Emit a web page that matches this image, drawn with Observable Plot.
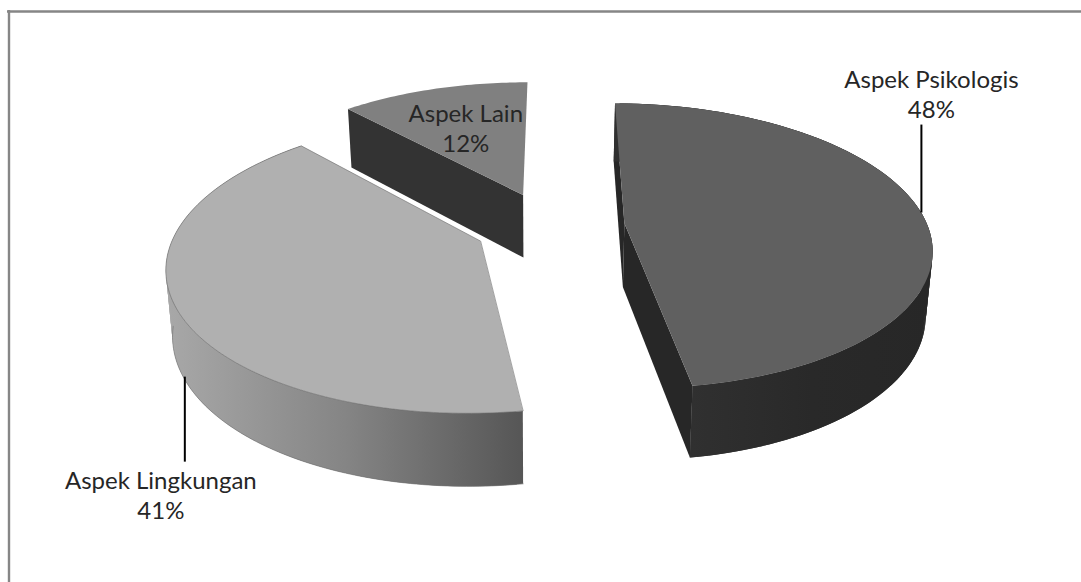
<!DOCTYPE html>
<html><head><meta charset="utf-8">
<style>html,body{margin:0;padding:0;background:#fff}svg{display:block}</style>
<script src="https://cdn.jsdelivr.net/npm/d3@7"></script>
<script src="https://cdn.jsdelivr.net/npm/@observablehq/plot@0.6"></script>
</head><body><div id="chart"></div>
<script>
// Shares of the three aspects, drawn as an exploded 3D pie.
const names = ["Aspek Psikologis", "Aspek Lingkungan", "Aspek Lain"];
const shares = [48, 41, 12];
const topColors = ["#606060", "#b0b0b0", "#808080"];
const cutColors = ["#272727", "#6a6a6a", "#333333"];

const W = 1081, H = 582;

// Perspective camera for the pie's top plane, and the offset to its bottom plane.
const cam = {ox: 548.47, oy: 225.3, ax: 303.11, ay: 139.62, k: 0.1589, rot: 0.21};
const explode = [0.2502, 0.2469, 0.2447];
const base = {vx: 540, sx: 0.982, dy: 53.2, sy: 0.048};

const rad = Math.PI / 180;
const total = d3.sum(shares);
const spans = d3.pairs([0, ...d3.cumsum(shares)].map((s) => (s / total) * 360));
const mids = spans.map(([a, b]) => (a + b) / 2);

function onTop(i, deg, r = 1) {
  const m = (mids[i] + cam.rot) * rad, t = (deg + cam.rot) * rad;
  const u = explode[i] * Math.sin(m) + r * Math.sin(t);
  const v = explode[i] * Math.cos(m) + r * Math.cos(t);
  const w = 1 + cam.k * v;
  return [cam.ox + (cam.ax * u) / w, cam.oy - (cam.ay * v) / w];
}
const onBase = ([x, y]) => [base.vx + (x - base.vx) * base.sx, y + base.dy + base.sy * y];

const sweep = (a, b) => [...d3.range(a, b, 1), b];
const topFace = (i) => [...sweep(...spans[i]).map((t) => onTop(i, t)), onTop(i, 0, 0)];
const cutFace = (i, deg) => {
  const a = onTop(i, deg), c = onTop(i, 0, 0);
  return [a, c, onBase(c), onBase(a)];
};

// The outer wall is a run of overlapping quads, so its silhouette stays filled.
const wall = (i) =>
  d3.pairs(sweep(...spans[i])).flatMap(([a, b], id) => {
    const c = Math.min(b + 1, spans[i][1]);
    const p = onTop(i, a), q = onTop(i, c);
    return [p, q, onBase(q), onBase(p)].map(([x, y]) => ({x, y, id}));
  });
// Only the front part of the lower rim is outlined.
const frontRim = (i) => sweep(spans[i][0], mids[i] + 18).map((t) => onBase(onTop(i, t)));

const polygon = (pts, fill, stroke = "none", strokeWidth = 0.6) =>
  Plot.line(pts, {x: "0", y: "1", curve: "linear-closed", fill, stroke, strokeWidth});
const side = (i, fill) => Plot.line(wall(i), {x: "x", y: "y", z: "id", curve: "linear-closed", fill, stroke: "none"});

// Horizontal shading for the outer walls, spanning the pie slice in page units.
const gradient = (id, x1, x2, stops) => () => {
  const defs = d3.create("svg:defs");
  const g = defs.append("linearGradient").attr("id", id)
    .attr("gradientUnits", "userSpaceOnUse").attr("x1", x1).attr("x2", x2).attr("y1", 0).attr("y2", 0);
  for (const [offset, color] of stops) g.append("stop").attr("offset", offset).attr("stop-color", color);
  return defs.node();
};

// Labels: leaders rise or drop from the rim at each slice's middle angle.
const rimPsi = onTop(0, mids[0]);
const rimLing = onBase(onTop(1, mids[1]));
const lainAt = onTop(2, mids[2], 0.6);
const leaders = [
  {x: rimPsi[0], y1: rimPsi[1], y2: rimPsi[1] - 88},
  {x: rimLing[0] + 2, y1: rimLing[1] + 1, y2: rimLing[1] + 86}
];
const labels = [
  {x: rimPsi[0] + 10, y: rimPsi[1] - 120, i: 0},
  {x: rimLing[0] - 22, y: rimLing[1] + 118, i: 1},
  {x: lainAt[0] - 1, y: lainAt[1] - 1, i: 2}
].map((d) => ({...d, text: `${names[d.i]}\n${shares[d.i]}%`}));

document.getElementById("chart").append(Plot.plot({
  width: W, height: H, margin: 0,
  x: {domain: [0, W], range: [0, W], axis: null},
  y: {domain: [0, H], range: [0, H], axis: null},
  marks: [
    gradient("wallMid", 166, 522, [[0, "#a8a8a8"], [0.5, "#858585"], [1, "#565656"]]),
    gradient("wallDark", 691, 932, [[0, "#303030"], [0.5, "#292929"], [1, "#272727"]]),

    // Chart border: top and left edges
    Plot.ruleY([11], {x1: 7, x2: W, stroke: "#868686", strokeWidth: 2.4}),
    Plot.ruleX([8.5], {y1: 10, y2: H, stroke: "#868686", strokeWidth: 2.4}),

    // Aspek Lain, at the back
    polygon(cutFace(2, spans[2][0]), cutColors[2]),
    polygon(topFace(2), topColors[2]),

    // Aspek Lingkungan
    side(1, "url(#wallMid)"),
    Plot.line(frontRim(1), {x: "0", y: "1", stroke: "#6e6e6e", strokeWidth: 0.6}),
    polygon(topFace(1), topColors[1], "#6a6a6a"),

    // Aspek Psikologis
    polygon(cutFace(0, spans[0][0]), cutColors[0]),
    polygon(cutFace(0, spans[0][1]), cutColors[0]),
    side(0, "url(#wallDark)"),
    polygon(topFace(0), topColors[0]),

    Plot.ruleX(leaders, {x: "x", y1: "y1", y2: "y2", stroke: "#000", strokeWidth: 2}),
    Plot.text(labels, {
      x: "x", y: "y", text: "text", fontSize: 24, lineHeight: 1.28,
      fontFamily: "Lato, Carlito, sans-serif", fill: "#262626"
    })
  ]
}));
</script></body></html>
